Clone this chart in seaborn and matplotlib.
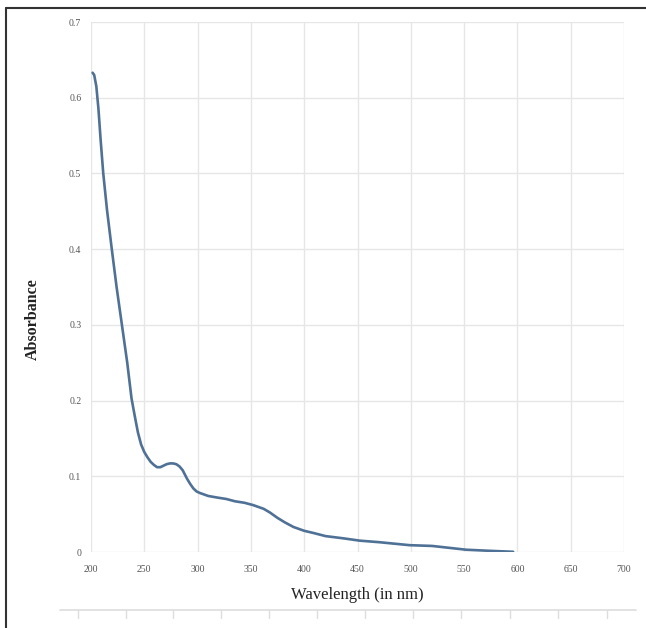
import matplotlib
matplotlib.use("Agg")
import matplotlib.pyplot as plt
import seaborn as sns
import pandas as pd
from matplotlib.lines import Line2D

wavelength = [201.5, 203, 205, 207, 209, 211.5, 215, 219.5, 224, 229, 234, 238, 241, 244,
              247, 250, 253, 256, 259, 262, 265, 268, 271, 274, 277, 280, 283, 286, 290,
              293, 296, 299, 302, 306, 310, 318, 327, 335, 344, 352, 358, 362, 368, 375,
              382, 390, 400, 409, 420, 437, 452, 470, 499, 520, 552, 575, 596]
absorbance = [0.633, 0.630, 0.615, 0.585, 0.545, 0.50, 0.452, 0.40, 0.35, 0.30, 0.25, 0.203,
              0.180, 0.158, 0.142, 0.132, 0.125, 0.119, 0.115, 0.112, 0.112, 0.114, 0.116,
              0.117, 0.117, 0.116, 0.113, 0.108, 0.097, 0.090, 0.084, 0.080, 0.078, 0.076,
              0.074, 0.072, 0.070, 0.067, 0.065, 0.062, 0.059, 0.057, 0.052, 0.045, 0.039,
              0.033, 0.028, 0.025, 0.021, 0.018, 0.015, 0.013, 0.009, 0.008, 0.003, 0.0015,
              0.0003]
x_ticks = [200, 250, 300, 350, 400, 450, 500, 550, 600, 650, 700]
y_ticks = [0, 0.1, 0.2, 0.3, 0.4, 0.5, 0.6, 0.7]
y_tick_labels = ["0", "0.1", "0.2", "0.3", "0.4", "0.5", "0.6", "0.7"]

df = pd.DataFrame({"Wavelength": wavelength, "Absorbance": absorbance})

sns.set_theme(style="white")
plt.rcParams["font.family"] = ["Liberation Serif", "DejaVu Serif"]

fig = plt.figure(figsize=(6.46, 6.28), dpi=100)
ax = fig.add_axes([91/646, 1-552/628, (624-91)/646, (552-22)/628])

sns.lineplot(data=df, x="Wavelength", y="Absorbance", ax=ax, color="#4f7196",
             linewidth=1.9, sort=True)

ax.set_xlim(200, 700)
ax.set_ylim(0, 0.7)
ax.set_xticks(x_ticks)
ax.set_xticklabels([str(v) for v in x_ticks])
ax.set_yticks(y_ticks)
ax.set_yticklabels(y_tick_labels)
ax.grid(True, color="#e6e6e6", linewidth=1.0)
for s in ax.spines.values():
    s.set_visible(False)
ax.tick_params(axis="both", length=0, labelsize=7, colors="#555555")
ax.tick_params(axis="x", pad=9)
ax.tick_params(axis="y", pad=7)
ax.set_xlabel("Wavelength (in nm)", fontsize=12, color="#222222", labelpad=10)
ax.set_ylabel("Absorbance", fontsize=11.5, color="#222222", fontweight="semibold")
ax.yaxis.set_label_coords(-0.095, 0.44)

# Outer frame lines (top and left)
fig.add_artist(Line2D([6/646, 6/646], [0, 1-8/628], color="#333333", linewidth=1.5))
fig.add_artist(Line2D([6/646, 1], [1-8/628, 1-8/628], color="#333333", linewidth=1.5))

# faint axis remnant at the bottom
y0 = 1 - 610/628
fig.add_artist(Line2D([60/646, 636/646], [y0, y0], color="#dddddd", linewidth=1.2))
for px in [78, 126, 173, 221, 269, 317, 365, 413, 461, 510, 558, 607]:
    fig.add_artist(Line2D([px/646, px/646], [y0, y0 - 8/628], color="#dddddd", linewidth=1.0))

fig.savefig("out.png", dpi=100)
